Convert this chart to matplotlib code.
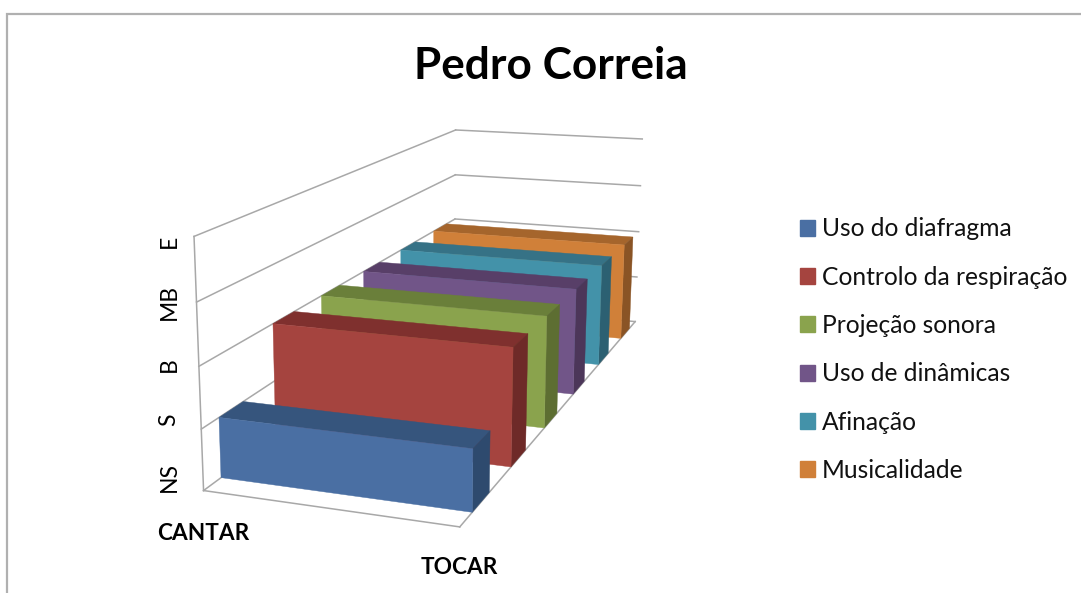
import numpy as np
import matplotlib
matplotlib.use("Agg")
import matplotlib.pyplot as plt
from matplotlib.patches import Patch, Polygon

title = "Pedro Correia"
categories = ["CANTAR", "TOCAR"]
series = ["Uso do diafragma", "Controlo da respiração", "Projeção sonora",
          "Uso de dinâmicas", "Afinação", "Musicalidade"]
uso_do_diafragma = [1, 1]
controlo_da_respiracao = [2, 2]
projecao_sonora = [2, 2]
uso_de_dinamicas = [2, 2]
afinacao = [2, 2]
musicalidade = [2, 2]
levels = ["NS", "S", "B", "MB", "E"]
values = [uso_do_diafragma, controlo_da_respiracao, projecao_sonora,
          uso_de_dinamicas, afinacao, musicalidade]

front_col = ["#4A6FA3", "#A5443F", "#8AA34D", "#715588", "#4392A9", "#D08039"]
top_col = ["#36557D", "#7F302E", "#6A7F3A", "#583F68", "#367286", "#A5652C"]
side_col = ["#2E4A6E", "#6E2A28", "#5D6E32", "#4C3659", "#2C6072", "#8A5425"]
grey = "#A8A8A8"
font = "Lato"

# camera calibration: model frame (cat, depth, level) -> image pixel
calib = [((0, 0, 0), (203.3, 491)), ((1, 0, 0), (459.3, 526.7)), ((1, 1, 0), (635, 321.7)),
         ((0, 1, 0), (455, 305)), ((0, 0, 4), (194.3, 236)), ((0, 1, 4), (455, 130)),
         ((1, 1, 4), (642.7, 139)), ((0, 0, 1), (201.3, 429.3)), ((0, 0, 2), (199.3, 366.7)),
         ((0, 0, 3), (196.5, 301.7)), ((1, 1, 1), (636.7, 276.7)), ((1, 1, 2), (638.7, 231.7)),
         ((1, 1, 3), (640.7, 186)), ((0, 1, 3), (455, 175)), ((0, 1, 2), (455, 219))]
A = []
for (X, Y, Z), (u, v) in calib:
    A.append([X, Y, Z, 1, 0, 0, 0, 0, -u*X, -u*Y, -u*Z, -u])
    A.append([0, 0, 0, 0, X, Y, Z, 1, -v*X, -v*Y, -v*Z, -v])
P = np.linalg.svd(np.array(A, float))[2][-1].reshape(3, 4)


def proj(x, y, z):
    h = P @ np.array([x, y, z, 1.0])
    return h[0] / h[2], h[1] / h[2]


fig = plt.figure(figsize=(10.81, 5.93), dpi=100)
ax = fig.add_axes([0, 0, 1, 1])
ax.set_xlim(0, 1081)
ax.set_ylim(593, 0)
ax.axis("off")

# chart-area border
ax.plot([7, 7, 1081], [593, 14, 14], color="#B0B0B0", lw=1.6, solid_joinstyle="miter")


def line(a, b):
    p, q = proj(*a), proj(*b)
    ax.plot([p[0], q[0]], [p[1], q[1]], color=grey, lw=1.1, zorder=0.5)


# walls and floor
for lev in range(len(levels)):
    line((0, 0, lev), (0, 1, lev))
    line((0, 1, lev), (1, 1, lev))
line((0, 0, 0), (0, 0, 4))
line((0, 0, 0), (1, 0, 0))
line((1, 0, 0), (1, 1, 0))

# 3-D areas, painted from back to front
n = len(series)
FILL = 0.42
for i in reversed(range(n)):
    y0 = (i + (1 - FILL) / 2) / n
    y1 = (i + (1 + FILL) / 2) / n
    v0, v1 = values[i]
    quad = lambda pts: [proj(*p) for p in pts]
    ax.add_patch(Polygon(quad([(0, y0, v0), (1, y0, v1), (1, y1, v1), (0, y1, v0)]),
                         fc=top_col[i], ec=top_col[i], lw=0.3, zorder=1))
    ax.add_patch(Polygon(quad([(1, y0, 0), (1, y1, 0), (1, y1, v1), (1, y0, v1)]),
                         fc=side_col[i], ec=side_col[i], lw=0.3, zorder=1))
    ax.add_patch(Polygon(quad([(0, y0, 0), (1, y0, 0), (1, y0, v1), (0, y0, v0)]),
                         fc=front_col[i], ec=front_col[i], lw=0.3, zorder=1))

ax.text(551, 66, title, ha="center", va="center", fontsize=31.8, fontweight="bold",
        family=font, color="black")

# value-axis labels
label_shift = [-14, -9, -2, 0, 5]
for lev, name in enumerate(levels):
    px, py = proj(0, 0, lev)
    ax.text(169, py + label_shift[lev], name, rotation=90, ha="center", va="center",
            fontsize=16.5, family=font, color="black")

# category labels
for k, name in enumerate(categories):
    px, py = proj(k, 0, 0)
    ax.text(px, py + 43 - 2 * k, name, ha="center", va="center", fontsize=16.3,
            fontweight="bold", family=font, color="black")

handles = [Patch(fc=c, ec=c) for c in front_col]
ax.legend(handles, series, loc="upper left", bbox_to_anchor=(792.6, 210),
          bbox_transform=ax.transData, frameon=False,
          prop={"family": font, "size": 17.7}, handlelength=0.61, handleheight=0.61,
          handletextpad=0.28, labelspacing=1.03, borderpad=0.3, borderaxespad=0,
          labelcolor="#111111")

fig.savefig("out.png", dpi=100)
